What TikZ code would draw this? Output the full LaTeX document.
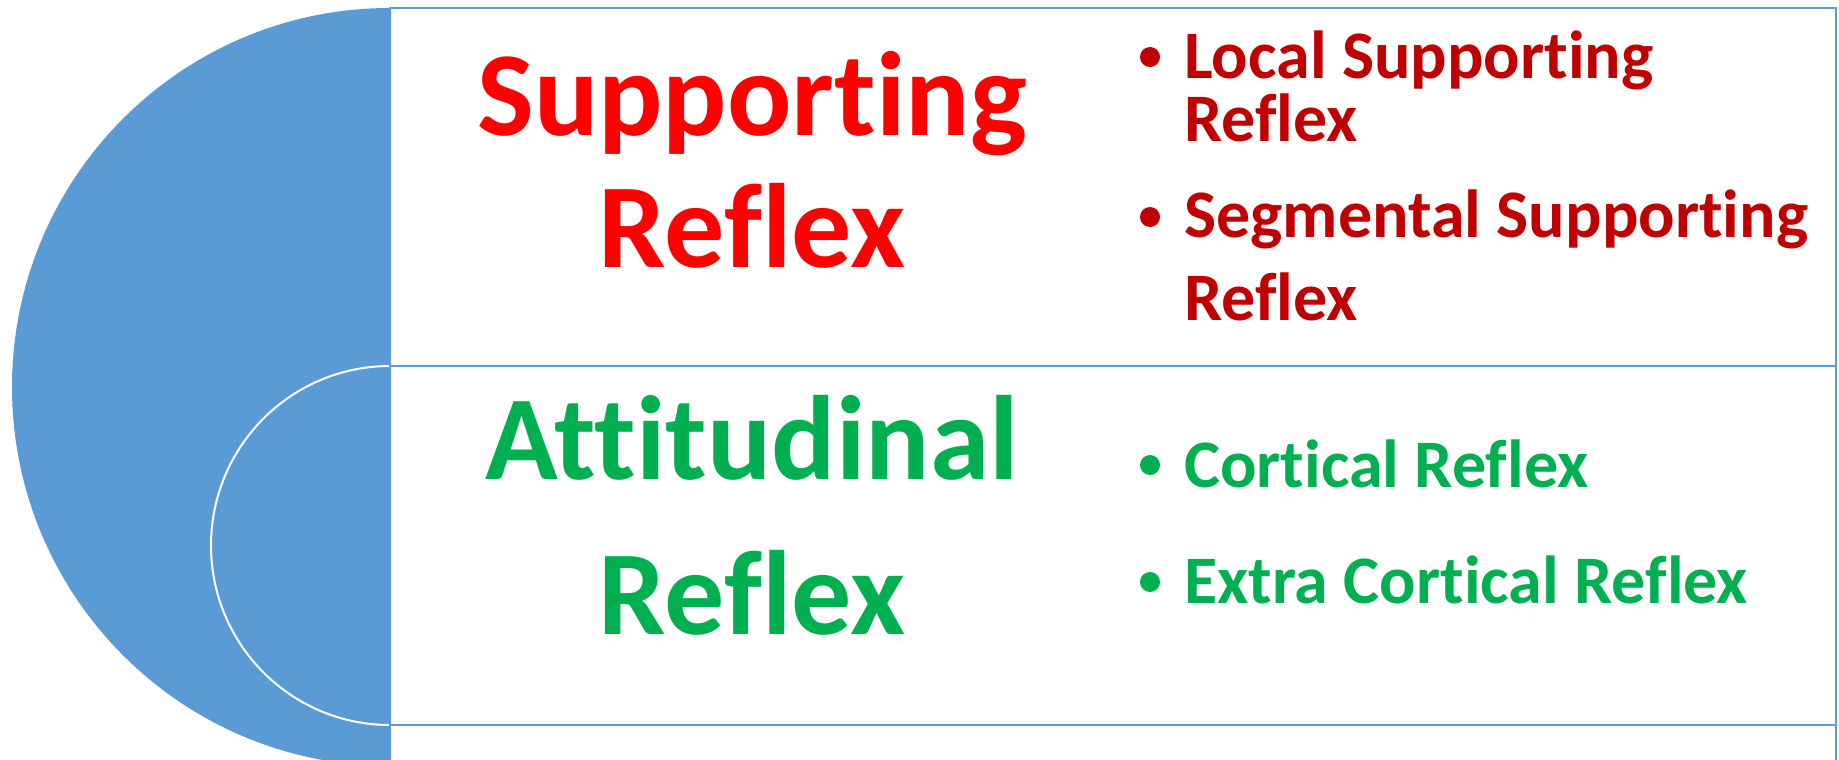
\documentclass[tikz,border=0pt]{standalone}
\usepackage{fontspec}
\setmainfont{Carlito}[Ligatures={NoCommon,NoRequired,NoContextual}]
\usetikzlibrary{positioning}
\definecolor{arcblue}{HTML}{5B9BD5}
\definecolor{headred}{HTML}{FF0000}
\definecolor{itemred}{HTML}{C00000}
\definecolor{itemgreen}{HTML}{00B050}
\tikzstyle{row} = [draw=arcblue, line width=2pt]
\tikzstyle{heading} = [align=center, anchor=base, inner sep=0pt, font=\bfseries\fontsize{120}{132}\selectfont]
\tikzstyle{item} = [align=left, anchor=base west, inner sep=0pt, font=\bfseries\fontsize{68}{63}\selectfont]
\tikzstyle{dot} = [circle, inner sep=0pt, minimum size=20pt]

\begin{document}
\begin{tikzpicture}[x=1pt, y=-1pt]

\useasboundingbox (0,0) rectangle (1839,760);
\clip (0,0) rectangle (1839,760);

% arcs on the left
\fill [arcblue] (390,8) arc [start angle=270, end angle=90, x radius=378, y radius=379] -- cycle;
\fill [arcblue] (390,366) arc [start angle=270, end angle=90, x radius=179, y radius=179.5] -- cycle;
\draw [white, line width=2pt] (390,366) arc [start angle=270, end angle=90, x radius=179, y radius=179.5];

% rows
\draw [row] (390,8) rectangle (1836,366);
\draw [row] (390,366) rectangle (1836,725);
\draw [row] (390,725) rectangle (1836,1084);

% headings (base = last line)
\node [heading, text=headred] (supporting) at (752,267) {Supporting\\Reflex};
\node [heading, text=itemgreen, font=\bfseries\fontsize{120}{155}\selectfont] (attitudinal) at (752,634) {Attitudinal\\Reflex};

% items
\node [item, text=itemred] (local) at (1184,141) {Local Supporting\\Reflex};
\node [item, text=itemred, font=\bfseries\fontsize{68}{83}\selectfont] (segmental) at (1184,320) {Segmental Supporting\\Reflex};
\node [item, text=itemgreen] (cortical) at (1184,487) {Cortical Reflex};
\node [item, text=itemgreen] (extra) at (1184,603) {Extra Cortical Reflex};

\node [dot, fill=itemred] (b1) at (1150,57) {};
\node [dot, fill=itemred] (b2) at (1150,217) {};
\node [dot, fill=itemgreen] (b3) at (1150,465) {};
\node [dot, fill=itemgreen] (b4) at (1150,582) {};

\end{tikzpicture}
\end{document}
